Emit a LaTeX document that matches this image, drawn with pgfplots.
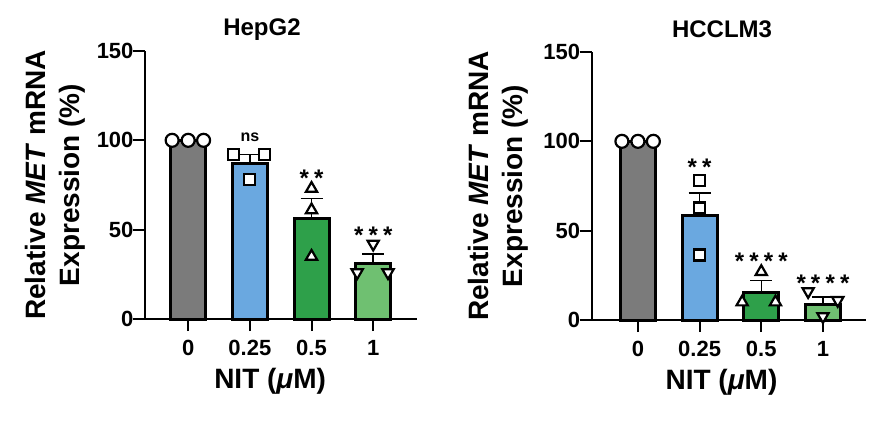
\documentclass[border=0pt]{standalone}
\usepackage{fontspec}
\setmainfont{Liberation Sans}
\usepackage{pgfplots}
\pgfplotsset{compat=1.18}
\definecolor{cgray}{HTML}{7B7B7B}
\definecolor{cblue}{HTML}{6AA8E0}
\definecolor{cgreen}{HTML}{2EA04A}
\definecolor{clgreen}{HTML}{6FC071}
\newcommand{\st}{\makebox[14.5pt]{*}}
\tikzset{sig/.style={font=\fontsize{24}{24}\selectfont\bfseries, anchor=base}}
\pgfplotsset{
 myax/.style={
  scale only axis, height=268pt,
  ymin=0, ymax=150,
  axis x line*=bottom, axis y line*=left,
  axis line style={line width=2pt},
  xtick={0,1,2,3}, xticklabels={0,0.25,0.5,1},
  ytick={0,50,100,150},
  tick align=outside, major tick length=12pt,
  tick style={line width=2pt, black},
  ticklabel style={font=\fontsize{22}{22}\selectfont\bfseries},
  /pgf/number format/assume math mode=true,
  xticklabel style={anchor=base, yshift=-24pt},
  yticklabel style={anchor=east, xshift=4pt},
  clip=false,
  title style={font=\fontsize{24}{24}\selectfont\bfseries, anchor=base},
  ylabel={Relative \textit{MET} mRNA\\Expression (\%)},
  ylabel style={align=center, font=\fontsize{28}{34}\selectfont\bfseries, anchor=center},
  xlabel={NIT (\textit{μ}M)},
  xlabel style={font=\fontsize{28}{28}\selectfont\bfseries, anchor=base},
 },
 mybar/.style={ybar, bar width=35pt, bar shift=0pt, draw=black, line width=3pt, fill=#1,
  error bars/.cd, y dir=plus, y explicit,
  error bar style={line width=1.5pt, black, solid},
  error mark options={rotate=90, mark size=11pt, line width=1.5pt, black}},
 mypts/.style={only marks, mark=#1, mark size=6.5pt, mark options={fill=white, draw=black, line width=2.2pt, solid}},
 mydown/.style={only marks, mark=triangle*, mark size=6.5pt, mark options={fill=white, draw=black, line width=2.2pt, solid, rotate=180}},
}
\begin{document}
\begin{tikzpicture}
\path[use as bounding box] (0,0) rectangle (892pt,424pt);
% ---------- HepG2 ----------
\begin{axis}[myax, at={(145pt,105pt)}, anchor=south west,
  width=272pt, xmin=-0.7, xmax=3.71,
  title={HepG2}, title style={at={(axis description cs:0.43,1)}, yshift=9pt},
  ylabel style={at={(axis description cs:-0.331,0.5)}},
  xlabel style={at={(axis description cs:0.46,-0.2575)}}]
\addplot[mybar=cgray] coordinates {(0,100)};
\addplot[mybar=cblue] coordinates {(1,87.3) +- (0,4.7)};
\addplot[mybar=cgreen] coordinates {(2,56.3) +- (0,11.2)};
\addplot[mybar=clgreen] coordinates {(3,31) +- (0,5.5)};
\addplot[mypts=*] coordinates {(-0.26,100) (0,100) (0.25,100)};
\addplot[mypts=square*, mark size=5.5pt] coordinates {(0.73,92) (1.24,92) (1,78)};
\addplot[mypts=triangle*] coordinates {(2,73) (2,61) (2,35)};
\addplot[mydown] coordinates {(3,42) (2.74,26) (3.24,26)};
\node[font=\fontsize{16}{16}\selectfont\bfseries, anchor=base] at (axis cs:1,99.6) {ns};
\node[sig] at (axis cs:2,74) {\st\st};
\node[sig] at (axis cs:3,42) {\st\st\st};
\end{axis}
% ---------- HCCLM3 ----------
\begin{axis}[myax, at={(591.7pt,104pt)}, anchor=south west,
  width=274.4pt, xmin=-0.75, xmax=3.7,
  title={HCCLM3}, title style={at={(axis description cs:0.475,1)}, yshift=9pt},
  ylabel style={at={(axis description cs:-0.339,0.5)}},
  xlabel style={at={(axis description cs:0.473,-0.2575)}}]
\addplot[mybar=cgray] coordinates {(0,100)};
\addplot[mybar=cblue] coordinates {(1,58.5) +- (0,12.5)};
\addplot[mybar=cgreen] coordinates {(2,15.5) +- (0,6.5)};
\addplot[mybar=clgreen] coordinates {(3,8.5) +- (0,4.5)};
\addplot[mypts=*] coordinates {(-0.26,100) (0,100) (0.25,100)};
\addplot[mypts=square*, mark size=5.5pt] coordinates {(1,78) (1,62.7) (1,36.4)};
\addplot[mypts=triangle*] coordinates {(2,27) (1.69,10) (2.23,10)};
\addplot[mydown] coordinates {(2.76,16) (3.24,11) (3,2)};
\node[sig] at (axis cs:1,81) {\st\st};
\node[sig] at (axis cs:2,28) {\st\st\st\st};
\node[sig] at (axis cs:3,15.8) {\st\st\st\st};
\end{axis}
\end{tikzpicture}
\end{document}
